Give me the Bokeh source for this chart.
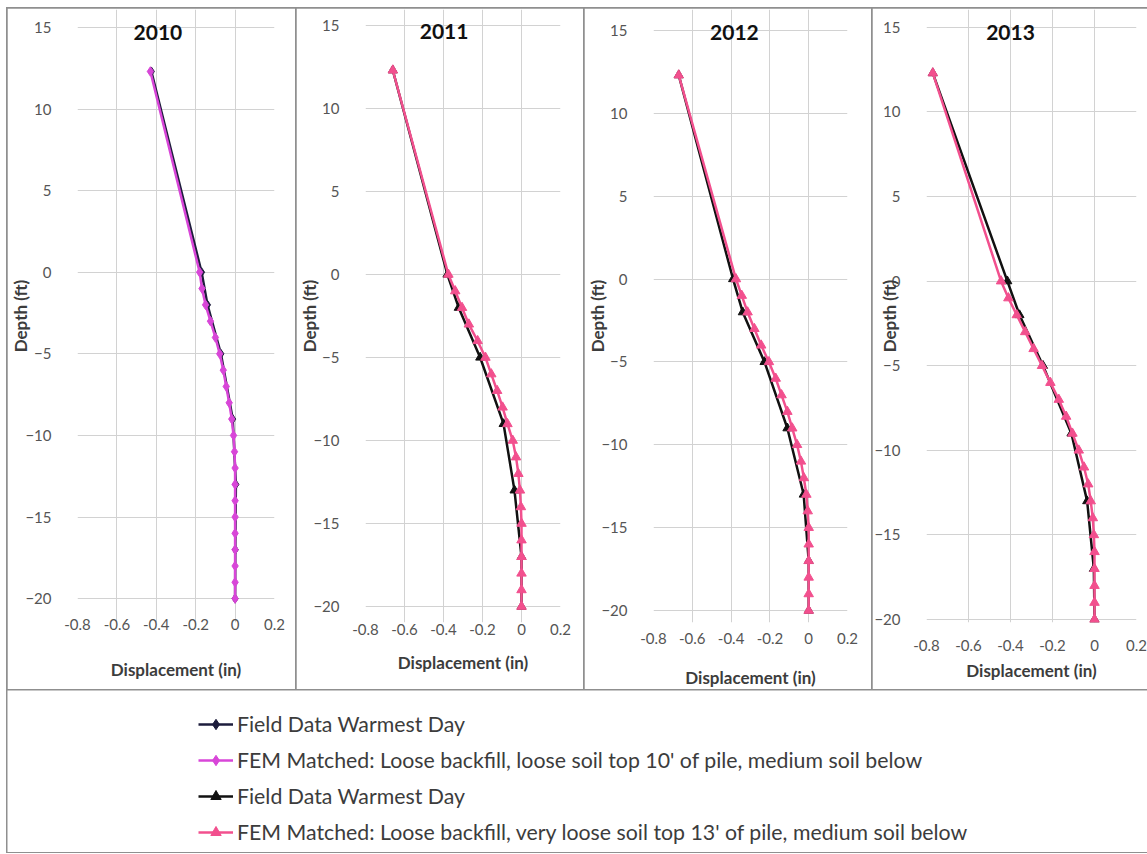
from bokeh.plotting import figure
from bokeh.models import Range1d, FixedTicker, Label, Legend, LegendItem
from bokeh.layouts import row, column
from bokeh.embed import file_html
from bokeh.resources import INLINE

# ---------------- data ----------------
YEARS = ["2010", "2011", "2012", "2013"]

FEM_DEPTH = [12.3, 0, -1, -2, -3, -4, -5, -6, -7, -8, -9, -10,
             -11, -12, -13, -14, -15, -16, -17, -18, -19, -20]
FIELD_DEPTH = [12.3, 0, -2, -5, -9, -13, -17, -20]

FEM_2010 = [-0.43, -0.18, -0.168, -0.15, -0.125, -0.10, -0.078, -0.06, -0.045, -0.03,
            -0.017, -0.008, -0.003, 0.0, 0.0, 0.0, 0.0, 0.0, 0.0, 0.0, 0.0, 0.0]
FIELD_2010 = [-0.425, -0.17, -0.14, -0.072, -0.012, 0.004, 0.001, 0.0]

FEM_2011 = [-0.66, -0.375, -0.34, -0.305, -0.27, -0.225, -0.185, -0.155, -0.125, -0.097,
            -0.072, -0.045, -0.028, -0.016, -0.008, -0.003, 0.0, 0.0, 0.0, 0.0, 0.0, 0.0]
FIELD_2011 = [-0.66, -0.38, -0.322, -0.212, -0.092, -0.036, 0.0, 0.0]

FEM_2012 = [-0.67, -0.375, -0.345, -0.315, -0.28, -0.245, -0.205, -0.17, -0.14, -0.11,
            -0.085, -0.06, -0.04, -0.025, -0.012, -0.005, 0.0, 0.0, 0.0, 0.0, 0.0, 0.0]
FIELD_2012 = [-0.67, -0.39, -0.34, -0.228, -0.11, -0.026, 0.0, 0.0]

FEM_2013 = [-0.77, -0.445, -0.41, -0.37, -0.33, -0.29, -0.25, -0.21, -0.17, -0.135,
            -0.105, -0.075, -0.05, -0.03, -0.018, -0.008, -0.003, 0.0, 0.0, 0.0, 0.0, 0.0]
FIELD_2013 = [-0.77, -0.415, -0.357, -0.245, -0.11, -0.035, -0.003, 0.0]

X_TICKS = [-0.8, -0.6, -0.4, -0.2, 0, 0.2]
X_TICK_LABELS = ["-0.8", "-0.6", "-0.4", "-0.2", "0", "0.2"]
Y_TICKS = [15, 10, 5, 0, -5, -10, -15, -20]

X_LABEL = "Displacement (in)"
Y_LABEL = "Depth (ft)"
LEGEND_LABELS = [
    "Field Data Warmest Day",
    "FEM Matched: Loose backfill, loose soil top 10' of pile, medium soil below",
    "Field Data Warmest Day",
    "FEM Matched: Loose backfill, very loose soil top 13' of pile, medium soil below",
]

FEMS = [FEM_2010, FEM_2011, FEM_2012, FEM_2013]
FIELDS = [FIELD_2010, FIELD_2011, FIELD_2012, FIELD_2013]

# ---------------- styling / layout ----------------
FONT = "Lato"
NAVY = "#1d1d3c"
BLACK = "#111111"
MAGENTA = "#d846d8"
PINK = "#f2508e"
GRID = "#d2d2d2"
BORDER = {"outline": "2px solid #8f8f8f", "outline-offset": "-1px"}

X0, X1 = -0.8, 0.2
Y0, Y1 = -20, 15
PANEL_H = 682
TOP_PAD = 1          # frame starts 1px below the panel top
BOTTOM_PAD = 65      # common frame bottom (rows align frame bottoms)
FRAME_TOP = TOP_PAD
FRAME_BOT = PANEL_H - BOTTOM_PAD

# in-panel pixel positions (panel top = 0) of the 15 and -20 gridlines
LAYOUT = [
    dict(w=289, l=61, r=22, g15=19, g20=593, tls=-10, als=26, yls=-9, tx=-0.392, ty=14.7),
    dict(w=288, l=58, r=24, g15=17, g20=601, tls=-5, als=14, yls=-10, tx=-0.397, ty=14.64),
    dict(w=288, l=57, r=25, g15=22, g20=605, tls=4, als=20, yls=-10, tx=-0.383, ty=14.9),
    dict(w=275, l=54, r=11, g15=19, g20=614, tls=11, als=6, yls=-29, tx=-0.40, ty=14.7),
]

panels = []
for i, year in enumerate(YEARS):
    L = LAYOUT[i]
    s = (Y1 - Y0) / (L["g20"] - L["g15"])          # data units per pixel
    y_hi = Y1 + (L["g15"] - FRAME_TOP) * s
    y_lo = Y0 - (FRAME_BOT - L["g20"]) * s
    p = figure(width=L["w"], height=PANEL_H, output_backend="svg", toolbar_location=None,
               x_range=Range1d(X0, X1), y_range=Range1d(y_lo, y_hi),
               min_border_left=L["l"], min_border_right=L["r"],
               min_border_top=TOP_PAD, min_border_bottom=BOTTOM_PAD,
               background_fill_color="white", border_fill_color="white")
    p.styles = BORDER
    p.outline_line_color = None
    p.xaxis.ticker = FixedTicker(ticks=X_TICKS)
    p.yaxis.ticker = FixedTicker(ticks=Y_TICKS)
    p.xaxis.major_label_overrides = {t: lab for t, lab in zip(X_TICKS, X_TICK_LABELS)}
    for ax in (p.xaxis, p.yaxis):
        ax.axis_line_color = None
        ax.major_tick_line_color = None
        ax.minor_tick_line_color = None
        ax.major_label_text_font = FONT
        ax.major_label_text_font_size = "15px"
        ax.major_label_text_color = "#555555"
        ax.axis_label_text_font = FONT
        ax.axis_label_text_font_style = "bold"
        ax.axis_label_text_font_size = "17px"
        ax.axis_label_text_color = "#3c3c3c"
    p.xaxis.major_label_standoff = L["tls"]
    p.yaxis.major_label_standoff = 20
    p.xaxis.axis_label = X_LABEL
    p.xaxis.axis_label_standoff = L["als"]
    p.yaxis.axis_label = Y_LABEL
    p.yaxis.axis_label_standoff = L["yls"]
    p.xgrid.grid_line_color = GRID
    p.ygrid.grid_line_color = GRID
    p.xgrid.bounds = (Y0, Y1)
    p.ygrid.bounds = (X0, X1)

    p.add_layout(Label(x=L["tx"], y=L["ty"], text=year, text_font=FONT,
                       text_font_style="bold", text_font_size="21px", text_color="#111111",
                       text_align="center", text_baseline="middle"))

    if i == 0:
        fcol, fmark, mcol, mmark = NAVY, "diamond", MAGENTA, "diamond"
    else:
        fcol, fmark, mcol, mmark = BLACK, "triangle", PINK, "triangle"
    p.line(FIELDS[i], FIELD_DEPTH, line_color=fcol, line_width=2.5)
    p.scatter(FIELDS[i], FIELD_DEPTH, marker=fmark, size=9, fill_color=fcol, line_color=fcol)
    p.line(FEMS[i], FEM_DEPTH, line_color=mcol, line_width=2.5)
    p.scatter(FEMS[i], FEM_DEPTH, marker=mmark, size=9.5, fill_color=mcol, line_color=mcol)
    panels.append(p)

# ---------------- legend panel ----------------
total_w = sum(L["w"] for L in LAYOUT)
lg = figure(width=total_w, height=162, output_backend="svg", toolbar_location=None,
            x_range=Range1d(5, 6), y_range=Range1d(5, 6), x_axis_type=None, y_axis_type=None,
            min_border=0, background_fill_color="white", border_fill_color="white")
lg.styles = BORDER
lg.outline_line_color = None
lg.grid.visible = False

legend_series = [(FIELD_2010, FIELD_DEPTH, NAVY, "diamond"),
                 (FEM_2010, FEM_DEPTH, MAGENTA, "diamond"),
                 (FIELD_2011, FIELD_DEPTH, BLACK, "triangle"),
                 (FEM_2011, FEM_DEPTH, PINK, "triangle")]
items = []
for lab, (xs, ys, c, m) in zip(LEGEND_LABELS, legend_series):
    r1 = lg.line(xs, ys, line_color=c, line_width=2.5)
    r2 = lg.scatter(xs, ys, marker=m, size=9, fill_color=c, line_color=c)
    items.append(LegendItem(label=lab, renderers=[r1, r2]))

legend = Legend(items=items, location=(191, 7), orientation="vertical", padding=0, margin=0,
                spacing=10, label_height=26, glyph_height=26, glyph_width=35, label_standoff=4,
                border_line_color=None, background_fill_alpha=0,
                label_text_font=FONT, label_text_font_size="21.3px", label_text_color="#3c3c3c")
lg.add_layout(legend, "center")

layout = column(row(*panels, spacing=0), lg, spacing=0, margin=(8, 0, 0, 7))
open("out.html", "w").write(file_html(layout, INLINE))
